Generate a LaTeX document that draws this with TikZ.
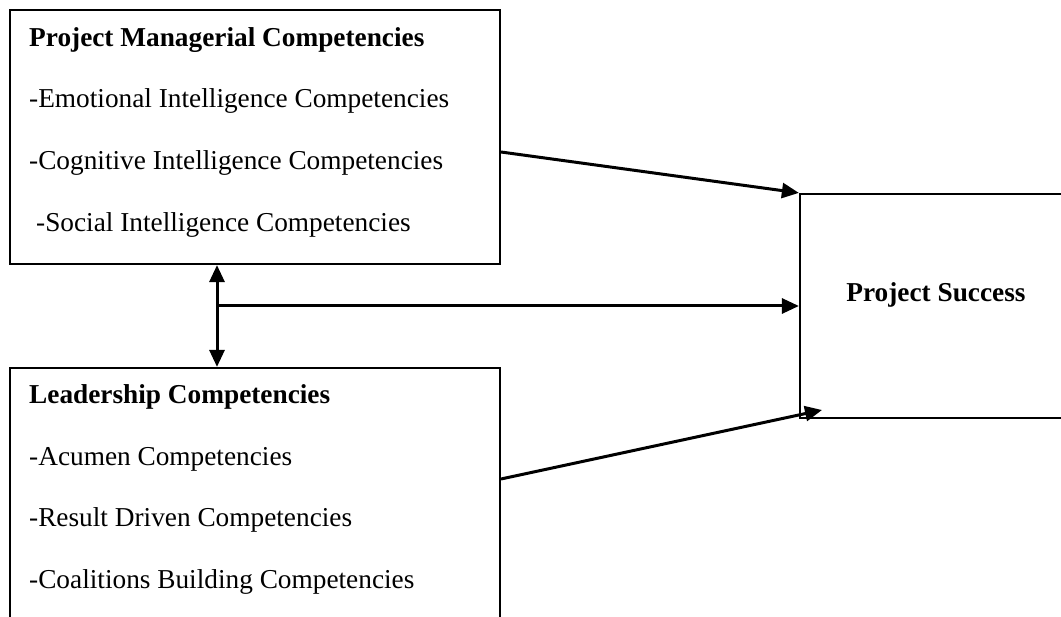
\documentclass[tikz,border=0pt]{standalone}
\usepackage{fontspec}
\setmainfont{Liberation Serif}
\usetikzlibrary{arrows.meta}
\begin{document}
\begin{tikzpicture}[x=1pt,y=-1pt,
  box/.style={draw,line width=2.2pt,rectangle,inner sep=0pt},
  conn/.style={line width=3pt,-{Triangle[length=17pt,width=15pt]}},
  both/.style={line width=3pt,{Triangle[length=17pt,width=15pt]}-{Triangle[length=17pt,width=15pt]}},
  txt/.style={anchor=base west,inner sep=0pt,font=\fontsize{27.3}{32}\selectfont},
  btxt/.style={txt,font=\fontsize{27.3}{32}\selectfont\bfseries}]
\clip (0,0) rectangle (1061,617);
\fill[white] (0,0) rectangle (1061,617);
% boxes
\node[box,minimum width=490pt,minimum height=254pt] (pm) at (255,137) {};
\node[box,minimum width=490pt,minimum height=300pt] (lc) at (255,518) {};
\node[box,minimum width=300pt,minimum height=224pt] (ps) at (950,306) {};
% texts
\node[btxt] (t1) at (29,47) {Project Managerial Competencies};
\node[txt] (t2) at (29,108) {-Emotional Intelligence Competencies};
\node[txt] (t3) at (29,170) {-Cognitive Intelligence Competencies};
\node[txt] (t4) at (36,232) {-Social Intelligence Competencies};
\node[btxt] (l1) at (29,404) {Leadership Competencies};
\node[txt] (l2) at (29,466) {-Acumen Competencies};
\node[txt] (l3) at (29,527) {-Result Driven Competencies};
\node[txt] (l4) at (29,588) {-Coalitions Building Competencies};
\node[btxt,anchor=base] (s1) at (936,302) {Project Success};
% connectors
\coordinate (a1) at (501,152);
\coordinate (a2) at (501,479);
\coordinate (a3) at (822,410);
\coordinate (j) at (217,306);
\draw[conn] (a1) -- (ps.north west);
\draw[conn] (a2) -- (a3);
\draw[conn] (j) -- (ps.west);
\draw[both] (pm.south -| j) -- (lc.north -| j);
\end{tikzpicture}
\end{document}
